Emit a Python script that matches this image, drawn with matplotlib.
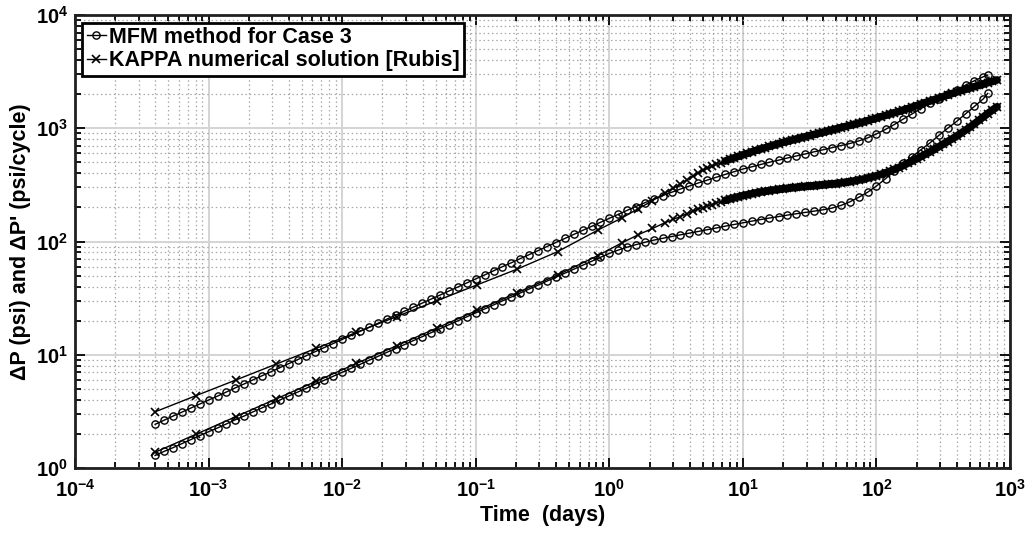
import math
import matplotlib
matplotlib.use("Agg")
import matplotlib.pyplot as plt
from matplotlib.ticker import FixedLocator, FuncFormatter, NullFormatter

plt.rcParams['font.family'] = ['Liberation Sans', 'DejaVu Sans']
plt.rcParams['font.weight'] = 'bold'
plt.rcParams['mathtext.fontset'] = 'custom'
plt.rcParams['mathtext.rm'] = 'Liberation Sans:bold'
plt.rcParams['mathtext.bf'] = 'Liberation Sans:bold'
plt.rcParams['mathtext.default'] = 'bf'

# ---------------- data ----------------
# MFM method (Case 3): time in days
t_mfm = [
    3.98e-4, 4.64e-4, 5.41e-4, 6.31e-4, 7.36e-4, 8.58e-4,
    1.00e-3, 1.17e-3, 1.36e-3, 1.58e-3, 1.85e-3, 2.15e-3, 2.51e-3, 2.93e-3, 3.41e-3, 3.98e-3, 4.64e-3, 5.41e-3, 6.31e-3, 7.36e-3, 8.58e-3,
    1.00e-2, 1.17e-2, 1.36e-2, 1.58e-2, 1.85e-2, 2.15e-2, 2.51e-2, 2.93e-2, 3.41e-2, 3.98e-2, 4.64e-2, 5.41e-2, 6.31e-2, 7.36e-2, 8.58e-2,
    1.00e-1, 1.17e-1, 1.36e-1, 1.58e-1, 1.85e-1, 2.15e-1, 2.51e-1, 2.93e-1, 3.41e-1, 3.98e-1, 4.64e-1, 5.41e-1, 6.31e-1, 7.36e-1, 8.58e-1,
    1.00, 1.17, 1.36, 1.58, 1.85, 2.15, 2.51, 2.93, 3.41, 3.98, 4.64, 5.41, 6.31, 7.36, 8.58,
    10.0, 11.7, 13.6, 15.8, 18.5, 21.5, 25.1, 29.3, 34.1, 39.8, 46.4, 54.1, 63.1, 73.6, 85.8,
    100, 117, 136, 158, 185, 215, 251, 293, 341, 398, 464, 541, 631, 680,
]
# MFM pressure drop (psi)
dp_mfm = [
    2.43, 2.64, 2.87, 3.11, 3.38, 3.67,
    3.98, 4.32, 4.69, 5.09, 5.53, 6.00, 6.52, 7.07, 7.68, 8.34, 9.05, 9.82, 10.67, 11.58, 12.57,
    13.65, 14.81, 16.08, 17.46, 18.95, 20.58, 22.34, 24.25, 26.32, 28.58, 31.02, 33.68, 36.56, 39.69, 43.09,
    46.77, 50.78, 55.12, 59.84, 64.96, 70.53, 76.56, 83.11, 90.23, 97.95, 106.3, 115.4, 125.3, 136.0, 147.7,
    160.3, 173.8, 188.4, 203.7, 220.3, 237.1, 254.1, 272.3, 290.4, 309.0, 328.9, 348.3, 369.0, 390.8, 413.0,
    436.5, 457.1, 478.6, 501.2, 522.4, 545.8, 568.9, 592.9, 619.4, 645.7, 673.0, 703.1, 732.8, 772.7, 822.2,
    891.3, 977.2, 1079, 1202, 1340, 1489, 1660, 1820, 1995, 2188, 2399, 2630, 2851, 2951,
]
# MFM pressure derivative (psi/cycle)
der_mfm = [
    1.29, 1.40, 1.51, 1.64, 1.78, 1.93,
    2.09, 2.26, 2.45, 2.66, 2.88, 3.13, 3.39, 3.67, 3.98, 4.32, 4.68, 5.07, 5.50, 5.96, 6.46,
    7.00, 7.59, 8.22, 8.91, 9.66, 10.47, 11.35, 12.30, 13.33, 14.45, 15.67, 16.98, 18.41, 19.95, 21.63,
    23.44, 25.41, 27.54, 29.85, 32.36, 35.07, 38.01, 41.21, 44.67, 48.41, 52.48, 56.88, 61.65, 66.83, 72.44,
    78.5, 84.1, 89.1, 93.8, 98.4, 102.8, 106.7, 110.7, 114.6, 118.6, 122.7, 127.1, 131.5, 136.5, 141.3,
    146.2, 151.4, 156.3, 161.1, 166.0, 171.0, 175.8, 180.7, 185.4, 190.5, 197.2, 208.0, 223.9, 245.5, 272.3,
    309.0, 358.9, 419.8, 489.8, 562.3, 645.7, 741.3, 864.9, 1000, 1148, 1340, 1560, 1820, 2030,
]

# KAPPA numerical solution (Rubis): time in days
t_kappa = [
    4.0e-4, 8.0e-4, 1.6e-3, 3.2e-3, 6.4e-3, 0.0128, 0.0256, 0.0512, 0.1024, 0.2048, 0.4096, 0.8192,
    1.25, 1.65, 2.1, 2.6, 3.0, 3.4, 3.8, 4.2, 4.6,
    5.01, 5.41, 5.84, 6.31, 6.81, 7.36, 7.94, 8.58, 9.26,
    10.0, 10.8, 11.7, 12.6, 13.6, 14.7, 15.8, 17.1, 18.5, 20.0, 21.5, 23.2, 25.1, 27.1, 29.3,
    31.6, 34.1, 36.9, 39.8, 43.0, 46.4, 50.1, 54.1, 58.4, 63.1, 68.1, 73.6, 79.4, 85.8, 92.6,
    100, 108, 117, 126, 136, 147, 158, 171, 185, 200, 215, 232, 251, 271, 293,
    316, 341, 369, 398, 430, 464, 501, 541, 584, 631, 681, 736, 800,
]
dp_kappa = [
    3.14, 4.34, 5.98, 8.26, 11.40, 15.74, 21.73, 30.0, 41.4, 57.1, 81.3, 125.9,
    162.2, 195.0, 229.1, 266.1, 295.1, 323.6, 350.8, 375.8, 402.7,
    426.6, 443.6, 460.3, 478.6, 495.5, 512.9, 530.9, 547.0, 564.9,
    582.1, 599.8, 619.4, 638.3, 656.1, 673.0, 691.8, 711.2, 729.5, 749.9, 767.4, 785.2, 803.5, 822.2, 841.4,
    861.0, 881.0, 901.6, 922.6, 944.1, 966.1, 988.6, 1012, 1035, 1059, 1084, 1109, 1135, 1167, 1197,
    1230, 1265, 1297, 1334, 1371, 1406, 1445, 1489, 1538, 1585, 1633, 1687, 1738, 1791, 1849,
    1905, 1963, 2028, 2089, 2148, 2203, 2265, 2328, 2388, 2455, 2523, 2588, 2670,
]
der_kappa = [
    1.38, 1.98, 2.84, 4.07, 5.83, 8.38, 12.02, 17.22, 24.66, 35.40, 50.70, 75.0,
    97.7, 114.8, 130.3, 146.2, 156.7, 166.0, 175.8, 184.1, 192.8,
    199.5, 205.6, 211.8, 218.8, 224.9, 230.7, 237.1, 242.7, 248.3,
    254.1, 258.8, 264.2, 269.2, 273.5, 277.3, 281.8, 285.1, 288.4, 291.7, 294.4, 297.8, 300.6, 303.4, 306.2,
    309.0, 311.2, 314.1, 316.2, 319.2, 322.1, 325.1, 328.9, 333.4, 337.3, 342.8, 349.1, 354.8, 363.1, 371.5,
    380.2, 391.7, 404.6, 416.9, 433.5, 449.8, 467.7, 489.8, 512.9, 537.0, 562.3, 588.8, 616.6, 650.1, 687.1,
    724.4, 763.8, 807.2, 851.1, 905.7, 961.6, 1023, 1096, 1175, 1259, 1349, 1445, 1549,
]

label_mfm = "MFM method for Case 3"
label_kappa = "KAPPA numerical solution [Rubis]"
x_label = "Time  (days)"
y_label = "\u0394P (psi) and \u0394P' (psi/cycle)"
x_decades = [-4, -3, -2, -1, 0, 1, 2, 3]
y_decades = [0, 1, 2, 3, 4]

# ---------------- figure ----------------
fig = plt.figure(figsize=(10.31, 5.34), dpi=100)
ax = fig.add_axes([0.0727, 0.1236, 0.9070, 0.8483])

mfm_style = dict(color='black', lw=1.0, marker='o', markersize=5.2,
                 markerfacecolor='none', markeredgewidth=1.0)
kap_style = dict(color='black', lw=1.0, marker='x', markersize=5.5,
                 markeredgewidth=1.2)

ax.plot(t_mfm, dp_mfm, label=label_mfm, **mfm_style)
ax.plot(t_kappa, dp_kappa, label=label_kappa, **kap_style)
ax.plot(t_mfm, der_mfm, **mfm_style)
ax.plot(t_kappa, der_kappa, **kap_style)

# densely sampled part of the KAPPA curves merges into a thick band
dense = [i for i, t in enumerate(t_kappa) if t >= 7.0]
ax.plot([t_kappa[i] for i in dense], [dp_kappa[i] for i in dense],
        color='black', lw=5.5, solid_capstyle='round')
ax.plot([t_kappa[i] for i in dense], [der_kappa[i] for i in dense],
        color='black', lw=5.5, solid_capstyle='round')

ax.set_xscale('log')
ax.set_yscale('log')
ax.set_xlim(1e-4, 1e3)
ax.set_ylim(1, 1e4)

ax.xaxis.set_major_locator(FixedLocator([10.0 ** d for d in x_decades]))
ax.yaxis.set_major_locator(FixedLocator([10.0 ** d for d in y_decades]))
ax.xaxis.set_minor_locator(FixedLocator([m * 10.0 ** d for d in x_decades[:-1] for m in range(2, 10)]))
ax.yaxis.set_minor_locator(FixedLocator([m * 10.0 ** d for d in y_decades[:-1] for m in range(2, 10)]))
fmt = FuncFormatter(lambda v, p: r'$\mathbf{10^{%d}}$' % round(math.log10(v)))
ax.xaxis.set_major_formatter(fmt)
ax.yaxis.set_major_formatter(fmt)
ax.xaxis.set_minor_formatter(NullFormatter())
ax.yaxis.set_minor_formatter(NullFormatter())

ax.grid(True, which='major', color='#d4d4d4', lw=1.4, ls='-')
ax.grid(True, which='minor', color='#a8a8a8', lw=0.9, ls=(0, (1.2, 2.2)))
ax.set_axisbelow(True)

ax.tick_params(which='both', direction='in', top=True, right=True, width=1.3, colors='black')
ax.tick_params(which='major', length=7, labelsize=14.5)
ax.tick_params(axis='x', which='major', pad=8)
ax.tick_params(axis='y', which='major', pad=5)
ax.tick_params(which='minor', length=4)
for s in ax.spines.values():
    s.set_linewidth(2.0)
    s.set_color('#202020')

ax.set_xlabel(x_label, fontsize=15.5, fontweight='bold', labelpad=3)
ax.set_ylabel(y_label, fontsize=15.5, fontweight='bold', labelpad=3)

leg = ax.legend(loc='upper left', frameon=True, fancybox=False,
                handlelength=0.9, handletextpad=0.15, borderpad=0.2,
                labelspacing=0.12, borderaxespad=0.35,
                prop={'weight': 'bold', 'size': 15.5})
leg.get_frame().set_edgecolor('black')
leg.get_frame().set_linewidth(2.0)
leg.get_frame().set_alpha(1.0)

fig.savefig('out.png', dpi=100)
